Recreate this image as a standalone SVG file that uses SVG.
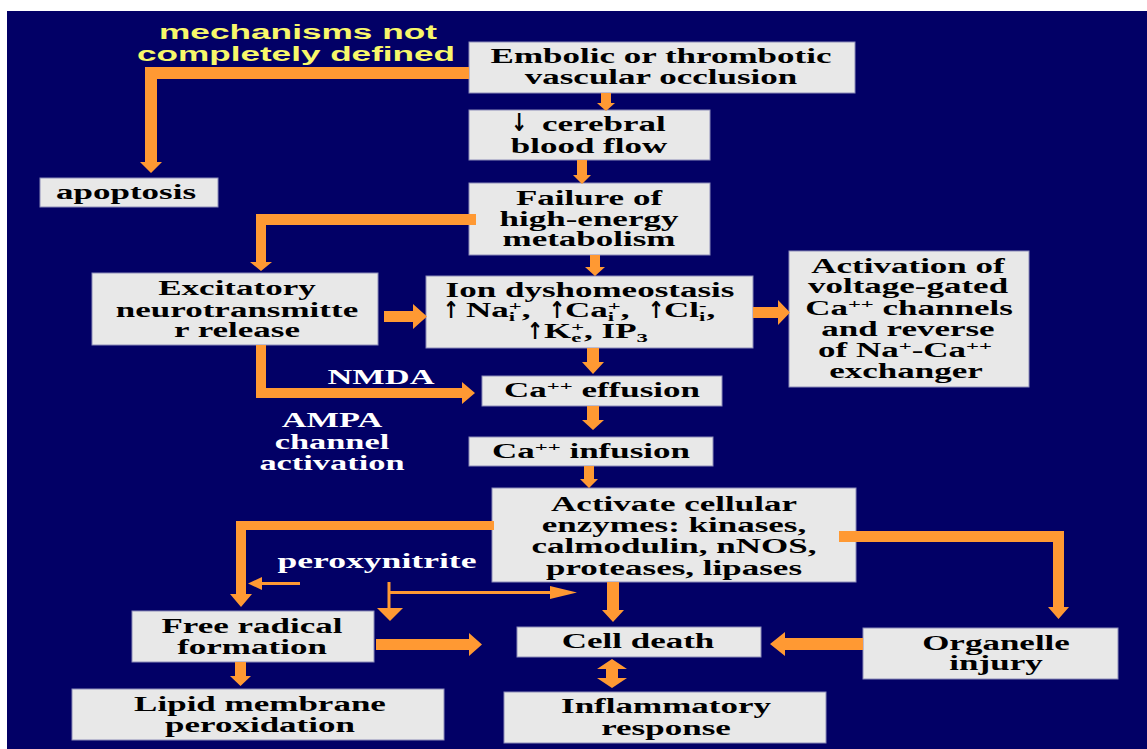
<svg xmlns="http://www.w3.org/2000/svg" width="1147" height="749" viewBox="0 0 1147 749">
<style>
.box{fill:#e8e8e8;stroke:#8c8cb8;stroke-width:1}
.t{font-family:"Liberation Serif","Times New Roman",serif;font-weight:bold;font-size:20px;fill:#000;text-anchor:middle}
.ts{font-family:"Liberation Serif","Times New Roman",serif;font-weight:bold;font-size:20px;fill:#000;text-anchor:start}
.w{font-family:"Liberation Serif","Times New Roman",serif;font-weight:bold;font-size:20px;fill:#fff;text-anchor:middle}
.s{font-size:13px}
.ar{font-family:"DejaVu Sans",sans-serif;font-weight:bold;font-size:13px;fill:#000}
.y{font-family:"Liberation Sans",Arial,sans-serif;font-weight:bold;font-size:20px;fill:#f7f76a}
.a{fill:#ff9933}
.ln{stroke:#ff9933;stroke-width:3;fill:none}
</style>
<rect x="0" y="0" width="1147" height="749" fill="#fff"/>
<rect x="7" y="11" width="1140" height="738" fill="#020066"/>

<g id="label-mechanisms">
<text class="y" x="159" y="39" textLength="278" lengthAdjust="spacingAndGlyphs">mechanisms not</text>
<text class="y" x="137" y="61" textLength="318" lengthAdjust="spacingAndGlyphs">completely defined</text>
</g>

<g id="n-embolic">
<rect class="box" x="469" y="42" width="386" height="51"/>
<text class="t" transform="translate(661 0) scale(1.75 1)"><tspan x="0" y="63">Embolic or thrombotic</tspan><tspan x="0" y="84">vascular occlusion</tspan></text>
</g>
<g id="n-cbf">
<rect class="box" x="469" y="110" width="241" height="50"/>
<text class="ar" transform="translate(511 131) scale(1.5 1.9)">↓</text>
<text class="ts" transform="translate(542 0) scale(1.75 1)" x="0" y="131">cerebral</text>
<text class="t" transform="translate(589 0) scale(1.75 1)" x="0" y="153">blood flow</text>
</g>
<g id="n-failure">
<rect class="box" x="469" y="183" width="241" height="72"/>
<text class="t" transform="translate(589 0) scale(1.75 1)"><tspan x="0" y="205">Failure of</tspan><tspan x="0" y="226">high-energy</tspan><tspan x="0" y="246">metabolism</tspan></text>
</g>
<g id="n-apoptosis">
<rect class="box" x="40" y="178" width="178" height="29"/>
<text class="t" transform="translate(126 0) scale(1.75 1)"><tspan x="0" y="199">apoptosis</tspan></text>
</g>
<g id="n-excitatory">
<rect class="box" x="92" y="273" width="286" height="72"/>
<text class="t" transform="translate(237 0) scale(1.75 1)"><tspan x="0" y="295">Excitatory</tspan><tspan x="0" y="317">neurotransmitte</tspan><tspan x="0" y="337">r release</tspan></text>
</g>
<g id="n-ion">
<rect class="box" x="426" y="276" width="327" height="72"/>
<text class="t" transform="translate(590 0) scale(1.75 1)" x="0" y="297">Ion dyshomeostasis</text>
<text class="ar" transform="translate(443 318) scale(1.5 1.8)">↑</text>
<text class="ts" transform="translate(466 0) scale(1.75 1)" x="0" y="317">Na<tspan class="s" dy="4">i</tspan><tspan class="s" dx="-3.6" dy="-11">+</tspan><tspan dy="7">,</tspan></text>
<text class="ar" transform="translate(549 318) scale(1.5 1.8)">↑</text>
<text class="ts" transform="translate(565 0) scale(1.75 1)" x="0" y="317">Ca<tspan class="s" dy="4">i</tspan><tspan class="s" dx="-3.6" dy="-11">+</tspan><tspan dy="7">,</tspan></text>
<text class="ar" transform="translate(648 318) scale(1.5 1.8)">↑</text>
<text class="ts" transform="translate(664 0) scale(1.75 1)" x="0" y="317">Cl<tspan class="s" dy="4">i</tspan><tspan class="s" dx="-3.6" dy="-11">-</tspan><tspan dy="7">,</tspan></text>
<text class="ar" transform="translate(527 339) scale(1.5 1.8)">↑</text>
<text class="ts" transform="translate(544 0) scale(1.75 1)" x="0" y="338">K<tspan class="s" dy="4">e</tspan><tspan class="s" dx="-5.8" dy="-11">+</tspan><tspan dy="7">, IP</tspan><tspan class="s" dy="4">3</tspan></text>
</g>
<g id="n-activation">
<rect class="box" x="789" y="251" width="240" height="136"/>
<text class="t" transform="translate(908 0) scale(1.75 1)"><tspan x="0" y="273">Activation of</tspan><tspan x="0" y="293">voltage-gated</tspan></text>
<text class="t" transform="translate(909 0) scale(1.75 1)" x="0" y="315">Ca<tspan class="s" dy="-7">++</tspan><tspan dy="7"> channels</tspan></text>
<text class="t" transform="translate(908 0) scale(1.75 1)" x="0" y="336">and reverse</text>
<text class="t" transform="translate(905 0) scale(1.75 1)" x="0" y="357">of Na<tspan class="s" dy="-7">+</tspan><tspan dy="7">-Ca</tspan><tspan class="s" dy="-7">++</tspan></text>
<text class="t" transform="translate(906 0) scale(1.75 1)" x="0" y="378">exchanger</text>
</g>
<g id="n-effusion">
<rect class="box" x="482" y="376" width="240" height="30"/>
<text class="t" transform="translate(602 0) scale(1.75 1)" x="0" y="397">Ca<tspan class="s" dy="-7">++</tspan><tspan dy="7"> effusion</tspan></text>
</g>
<g id="n-infusion">
<rect class="box" x="469" y="437" width="244" height="29"/>
<text class="t" transform="translate(591 0) scale(1.75 1)" x="0" y="458">Ca<tspan class="s" dy="-7">++</tspan><tspan dy="7"> infusion</tspan></text>
</g>
<g id="n-enzymes">
<rect class="box" x="492" y="488" width="364" height="94"/>
<text class="t" transform="translate(674 0) scale(1.75 1)"><tspan x="0" y="511">Activate cellular</tspan><tspan x="0" y="532">enzymes: kinases,</tspan><tspan x="0" y="553">calmodulin, nNOS,</tspan><tspan x="0" y="575">proteases, lipases</tspan></text>
</g>
<g id="n-freeradical">
<rect class="box" x="132" y="611" width="242" height="51"/>
<text class="t" transform="translate(252 0) scale(1.75 1)"><tspan x="0" y="633">Free radical</tspan><tspan x="0" y="654">formation</tspan></text>
</g>
<g id="n-lipid">
<rect class="box" x="72" y="689" width="372" height="51"/>
<text class="t" transform="translate(260 0) scale(1.75 1)"><tspan x="0" y="711">Lipid membrane</tspan><tspan x="0" y="732">peroxidation</tspan></text>
</g>
<g id="n-celldeath">
<rect class="box" x="517" y="627" width="244" height="30"/>
<text class="t" transform="translate(638 0) scale(1.75 1)" x="0" y="648">Cell death</text>
</g>
<g id="n-inflammatory">
<rect class="box" x="504" y="692" width="322" height="51"/>
<text class="t" transform="translate(666 0) scale(1.75 1)"><tspan x="0" y="713">Inflammatory</tspan><tspan x="0" y="735">response</tspan></text>
</g>
<g id="n-organelle">
<rect class="box" x="863" y="628" width="255" height="51"/>
<text class="t" transform="translate(996 0) scale(1.75 1)"><tspan x="0" y="650">Organelle</tspan><tspan x="0" y="670">injury</tspan></text>
</g>

<g id="labels">
<text class="w" transform="translate(381 0) scale(1.72 1)" x="0" y="384">NMDA</text>
<text class="w" transform="translate(332 0) scale(1.72 1)"><tspan x="0" y="427">AMPA</tspan><tspan x="0" y="449">channel</tspan><tspan x="0" y="470">activation</tspan></text>
<text class="w" transform="translate(377 0) scale(1.78 1)" x="0" y="568">peroxynitrite</text>
</g>

<g id="connectors">
<polygon class="a" points="601,93 611,93 611,103 615,103 606,111 597,103 601,103"/>
<polygon class="a" points="577,160 587,160 587,175 591,175 582,184 573,175 577,175"/>
<polygon class="a" points="590,255 600,255 600,267 605,267 595,276 585,267 590,267"/>
<polygon class="a" points="469,67 469,79 157,79 157,162 162,162 151,173 140,162 145,162 145,67"/>
<polygon class="a" points="476,214 476,225 266,225 266,262 272,262 261,271 250,262 256,262 256,214"/>
<polygon class="a" points="384,311 413,311 413,304 427,316.5 413,329 413,322 384,322"/>
<polygon class="a" points="256,345 266,345 266,388 462,388 462,382 475,393 462,404 462,398 256,398"/>
<polygon class="a" points="587,348 599,348 599,362 604,362 593,374 582,362 587,362"/>
<polygon class="a" points="587,406 599,406 599,420 604,420 593,430 582,420 587,420"/>
<polygon class="a" points="753,307 778,307 778,300 790,312.5 778,325 778,318 753,318"/>
<polygon class="a" points="584,466 594,466 594,479 598,479 589,488 580,479 584,479"/>
<polygon class="a" points="494,521 494,530 246,530 246,594 252,594 241,607 230,594 236,594 236,521"/>
<line class="ln" x1="300" y1="583.5" x2="260" y2="583.5"/>
<polygon class="a" points="262,577 248,583.5 262,590"/>
<line class="ln" x1="389" y1="582" x2="389" y2="609"/>
<line class="ln" x1="389" y1="592.5" x2="552" y2="592.5"/>
<polygon class="a" points="377,608 403,608 390,621"/>
<polygon class="a" points="550,586 577,592.5 550,599"/>
<polygon class="a" points="607,582 619,582 619,610 624,610 613,622 602,610 607,610"/>
<polygon class="a" points="376,639 469,639 469,633 482,644.5 469,656 469,650 376,650"/>
<polygon class="a" points="235,662 246,662 246,676 251,676 240.5,686 230,676 235,676"/>
<polygon class="a" points="612,659 627,669 618,669 618,678 627,678 612,688 597,678 606,678 606,669 597,669"/>
<polygon class="a" points="863,638 785,638 785,632 770,644 785,656 785,650 863,650"/>
<polygon class="a" points="839,531 1064,531 1064,607 1069,607 1058.5,619 1048,607 1053,607 1053,542 839,542"/>
</g>
</svg>
